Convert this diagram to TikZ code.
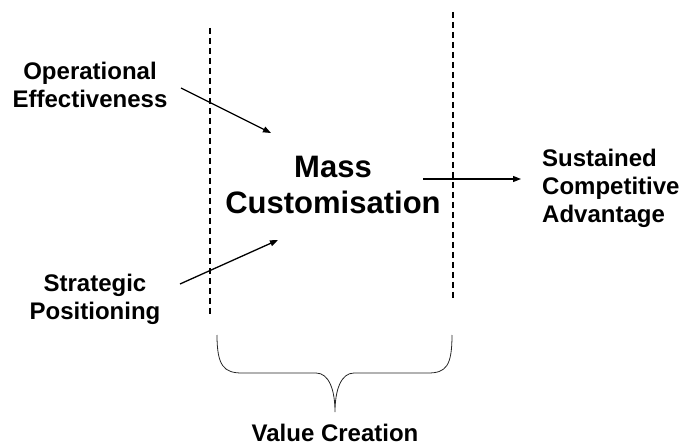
\documentclass[tikz,border=0pt]{standalone}
\usepackage{fontspec}
\setmainfont{Liberation Sans}
\usetikzlibrary{arrows.meta}
\tikzset{
  lbl/.style={inner sep=0pt, align=center, font=\bfseries\fontsize{24}{28}\selectfont},
  biglbl/.style={inner sep=0pt, align=center, font=\bfseries\fontsize{31}{36}\selectfont},
  guide/.style={line width=1.4pt, dash pattern=on 6pt off 4pt},
  flow/.style={line width=1.3pt, -{Triangle[length=8pt,width=6pt]}},
  bracestyle/.style={line width=0.8pt, draw=black!85}
}
\begin{document}
\begin{tikzpicture}[x=1pt,y=-1pt]
\useasboundingbox (0,0) rectangle (680,446);
% labels
\node[lbl] (oe) at (90,84.5) {Operational\\Effectiveness};
\node[lbl] (sp) at (95,299.5) {Strategic\\Positioning};
\node[biglbl] (mc) at (333,185) {Mass\\Customisation};
\node[lbl, align=left, anchor=west] (sca) at (542,188) {Sustained\\Competitive\\Advantage};
\node[lbl] (vc) at (335,432.5) {Value Creation};
% dashed guide lines
\coordinate (l1) at (210,28);
\coordinate (l2) at (210,316);
\coordinate (r1) at (453,12);
\coordinate (r2) at (453,300);
\draw[guide] (l1) -- (l2);
\draw[guide] (r1) -- (r2);
% arrows
\coordinate (oeS) at (181,88);
\coordinate (oeE) at (271,133);
\coordinate (spS) at (180,284);
\coordinate (spE) at (278,240);
\coordinate (mcS) at (423,179);
\coordinate (mcE) at (521,179);
\draw[flow] (oeS) -- (oeE);
\draw[flow] (spS) -- (spE);
\draw[flow] (mcS) -- (mcE);
% brace
\coordinate (bl) at (217,335);
\coordinate (bt) at (335,412);
\coordinate (br) at (452,335);
\draw[bracestyle] (bl) .. controls (217,366) and (224,373) .. (242,373)
  -- (316,373) .. controls (329,373) and (335,390) .. (bt)
  .. controls (335,390) and (341,373) .. (354,373)
  -- (428,373) .. controls (446,373) and (452,366) .. (br);
\end{tikzpicture}
\end{document}
